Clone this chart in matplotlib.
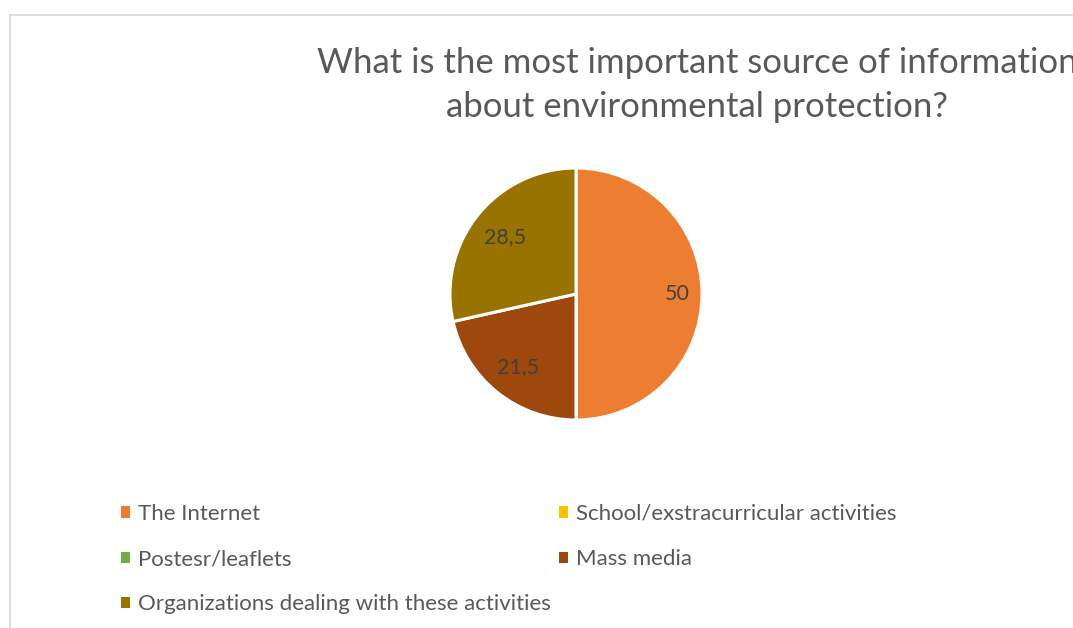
import numpy as np
import matplotlib.pyplot as plt
from matplotlib.lines import Line2D

plt.rcParams['font.family'] = ['Lato', 'DejaVu Sans']

# data
sources = ['The Internet', 'School/exstracurricular activities', 'Postesr/leaflets',
           'Mass media', 'Organizations dealing with these activities']
shares = [50, 0, 0, 21.5, 28.5]
colours = ['#ED7D31', '#FFC000', '#70AD47', '#9E480E', '#997300']
title = 'What is the most important source of information\nabout environmental protection?'

W, H = 1073, 628
fig = plt.figure(figsize=(W / 100, H / 100), dpi=100)

# chart frame (partly cropped in the reference)
fig.add_artist(Line2D([9.5 / W, 9.5 / W], [0, 1 - 15 / H], color='#D9D9D9', lw=1.2, transform=fig.transFigure))
fig.add_artist(Line2D([9.5 / W, 1], [1 - 15 / H, 1 - 15 / H], color='#D9D9D9', lw=1.2, transform=fig.transFigure))

# pie placement
cx, cy, r = 576, 294, 126
ax = fig.add_axes([(cx - r) / W, 1 - (cy + r) / H, 2 * r / W, 2 * r / H])


def fmt(v):
    s = ('%.1f' % v).rstrip('0').rstrip('.')
    return s.replace('.', ',')


wedges = ax.pie(shares, colors=colours, startangle=90, counterclock=False,
                radius=1, wedgeprops=dict(edgecolor='white', linewidth=2.2))[0]
ax.set_xlim(-1.0, 1.0)
ax.set_ylim(-1.0, 1.0)
ax.set_aspect('equal')
ax.axis('off')

# data labels (excel "best fit" puts them at slightly different radii)
label_dist = [0.8, 0, 0, 0.74, 0.72]
total = sum(shares)
start = 90.0
for val, d in zip(shares, label_dist):
    span = 360 * val / total
    mid = np.deg2rad(start - span / 2)
    start -= span
    if val == 0:
        continue
    ax.text(d * np.cos(mid), d * np.sin(mid), fmt(val), ha='center', va='center',
            fontsize=15.5, color='#404040')

fig.text(697 / W, 1 - 85 / H, title, ha='center', va='center', fontsize=25, color='#595959',
         linespacing=1.43)

order = [0, 2, 4, 1, 3]
leg = fig.legend([wedges[i] for i in order], [sources[i] for i in order], ncol=2,
                 loc='upper left', bbox_to_anchor=(121 / W, 1 - 504 / H), frameon=False,
                 fontsize=16, handlelength=0.4, handleheight=0.4, handletextpad=0.35,
                 columnspacing=0.4, labelspacing=1.13, borderaxespad=0, borderpad=0)
for t in leg.get_texts():
    t.set_color('#595959')
for h in leg.legend_handles:
    h.set_linewidth(0)

fig.savefig('out.png', dpi=100)
